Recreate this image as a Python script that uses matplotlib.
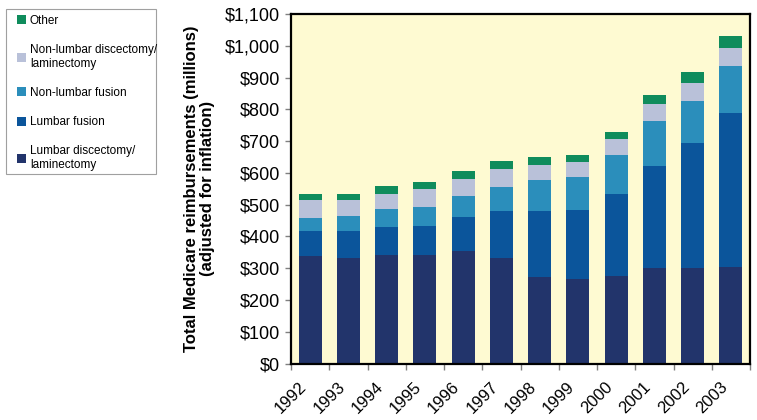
import numpy as np
import matplotlib
matplotlib.use("Agg")
import matplotlib.pyplot as plt
from matplotlib.patches import Rectangle
from matplotlib.ticker import FuncFormatter

plt.rcParams["font.family"] = ["Liberation Sans", "DejaVu Sans"]

# --- data (millions of dollars, stacked segments) ---
years = ["1992", "1993", "1994", "1995", "1996", "1997",
         "1998", "1999", "2000", "2001", "2002", "2003"]
lumbar_discectomy = [339, 331, 341, 341, 355, 332, 273, 265, 275, 301, 301, 303]
lumbar_fusion = [78, 86, 89, 93, 106, 147, 206, 218, 257, 321, 392, 484]
nonlumbar_fusion = [41, 47, 55, 60, 65, 75, 98, 103, 123, 140, 133, 150]
nonlumbar_discectomy = [56, 52, 50, 54, 54, 57, 48, 47, 52, 55, 58, 57]
other = [20, 19, 23, 24, 26, 25, 26, 24, 23, 28, 33, 37]

series = [
    ("Lumbar discectomy/\nlaminectomy", lumbar_discectomy, "#22346b"),
    ("Lumbar fusion", lumbar_fusion, "#0b559b"),
    ("Non-lumbar fusion", nonlumbar_fusion, "#2b8ebb"),
    ("Non-lumbar discectomy/\nlaminectomy", nonlumbar_discectomy, "#b9c1d9"),
    ("Other", other, "#0f8c5c"),
]

W, H = 757, 420
fig = plt.figure(figsize=(W / 100, H / 100), dpi=100)
ax = fig.add_axes([291 / W, 1 - 363.5 / H, 459 / W, 349.5 / H])
ax.set_facecolor("#fefad2")

x = np.arange(len(years))
bottom = np.zeros(len(years))
handles = []
for label, vals, color in series:
    b = ax.bar(x, vals, width=0.6, bottom=bottom, color=color, label=label,
               edgecolor="none")
    handles.append(b)
    bottom += np.array(vals)

ax.set_xlim(-0.5, len(years) - 0.5)
ax.set_ylim(0, 1100)
ax.set_yticks(np.arange(0, 1101, 100))
ax.yaxis.set_major_formatter(FuncFormatter(lambda v, p: f"${int(v):,}"))

# tick marks on slot boundaries (minor), year labels placed a bit left of bar centre
ax.set_xticks(np.arange(len(years) + 1) - 0.5, minor=True)
ax.set_xticks(x - 0.29)
ax.set_xticklabels(years, rotation=45, ha="right", va="top",
                   rotation_mode="anchor", fontsize=12)
ax.tick_params(axis="x", which="major", length=0, pad=11)
ax.tick_params(axis="x", which="minor", length=4, width=1, color="#808080")

ax.tick_params(axis="y", colors="#808080", labelcolor="black",
               length=4, width=1, labelsize=13, pad=4)
for s in ax.spines.values():
    s.set_linewidth(1.6)
    s.set_color("black")

ax.set_ylabel("Total Medicare reimbursements (millions)\n(adjusted for inflation)",
              fontsize=12, fontweight="bold", labelpad=7, linespacing=1.1,
              multialignment="center")

# legend box drawn separately so the inner padding can be matched
fig.patches.append(Rectangle((6 / W, 1 - 174 / H), 150 / W, 165 / H,
                             transform=fig.transFigure, facecolor="white",
                             edgecolor="#a0a0a0", linewidth=0.8))
fig.legend(handles[::-1], [s[0] for s in series][::-1],
           loc="upper left", bbox_to_anchor=(17 / W, 1 - 15 / H),
           fontsize=8.5, frameon=False, handlelength=0.8, handleheight=0.8,
           handletextpad=0.3, labelspacing=1.45, borderpad=0,
           borderaxespad=0)

fig.savefig("out.png", dpi=100)
